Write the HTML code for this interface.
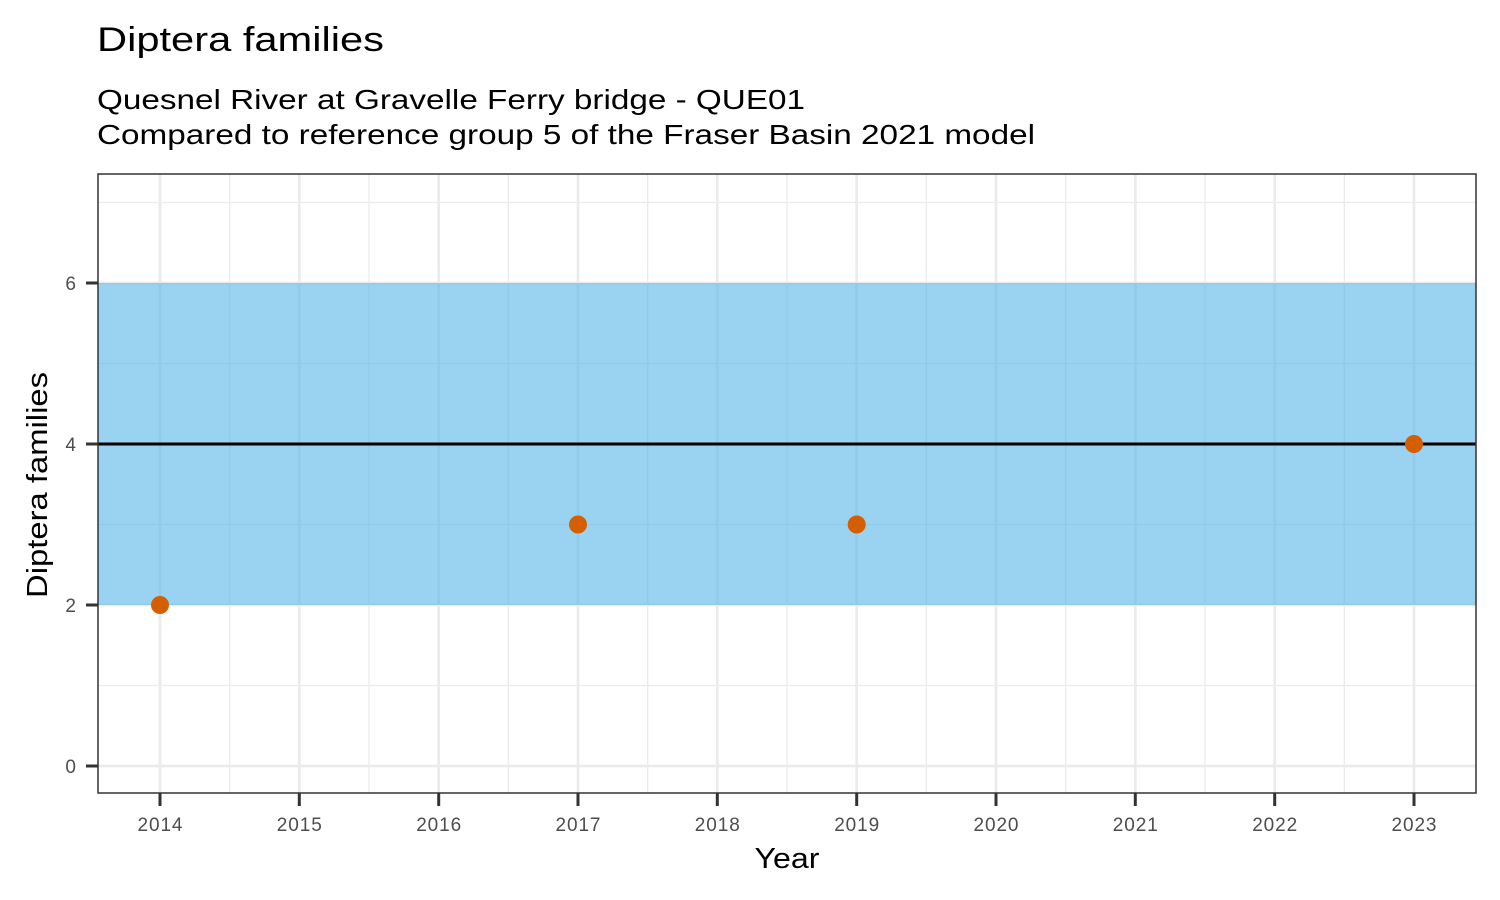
<!DOCTYPE html>
<html><head><style>body{margin:0;background:#fff}svg{display:block}text{font-family:"Liberation Sans",Arial,sans-serif}</style></head>
<body>
<svg width="1500" height="900" viewBox="0 0 1500 900" xmlns="http://www.w3.org/2000/svg">
<rect width="1500" height="900" fill="#fff"/>
<text x="97" y="51" font-size="34" textLength="287" lengthAdjust="spacingAndGlyphs">Diptera families</text>
<text x="97" y="109" font-size="28" textLength="708" lengthAdjust="spacingAndGlyphs">Quesnel River at Gravelle Ferry bridge - QUE01</text>
<text x="97" y="144" font-size="28" textLength="938" lengthAdjust="spacingAndGlyphs">Compared to reference group 5 of the Fraser Basin 2021 model</text>
<g stroke="#ebebeb" stroke-width="1.3">
<line x1="98" x2="1476" y1="685.5" y2="685.5"/><line x1="98" x2="1476" y1="524.5" y2="524.5"/><line x1="98" x2="1476" y1="363.5" y2="363.5"/><line x1="98" x2="1476" y1="202.5" y2="202.5"/>
<line x1="229.7" x2="229.7" y1="174" y2="793"/><line x1="369" x2="369" y1="174" y2="793"/><line x1="508.3" x2="508.3" y1="174" y2="793"/><line x1="647.7" x2="647.7" y1="174" y2="793"/><line x1="787" x2="787" y1="174" y2="793"/><line x1="926.3" x2="926.3" y1="174" y2="793"/><line x1="1065.7" x2="1065.7" y1="174" y2="793"/><line x1="1205" x2="1205" y1="174" y2="793"/><line x1="1344.3" x2="1344.3" y1="174" y2="793"/>
</g>
<g stroke="#ebebeb" stroke-width="2.7">
<line x1="98" x2="1476" y1="766" y2="766"/><line x1="98" x2="1476" y1="605" y2="605"/><line x1="98" x2="1476" y1="444" y2="444"/><line x1="98" x2="1476" y1="283" y2="283"/>
<line x1="160" x2="160" y1="174" y2="793"/><line x1="299.3" x2="299.3" y1="174" y2="793"/><line x1="438.7" x2="438.7" y1="174" y2="793"/><line x1="578" x2="578" y1="174" y2="793"/><line x1="717.3" x2="717.3" y1="174" y2="793"/><line x1="856.7" x2="856.7" y1="174" y2="793"/><line x1="996" x2="996" y1="174" y2="793"/><line x1="1135.3" x2="1135.3" y1="174" y2="793"/><line x1="1274.7" x2="1274.7" y1="174" y2="793"/><line x1="1414" x2="1414" y1="174" y2="793"/>
</g>
<rect x="98" y="283" width="1378" height="322" fill="#56B4E9" fill-opacity="0.6"/>
<line x1="98" x2="1476" y1="444" y2="444" stroke="#000" stroke-width="3"/>
<g fill="#D55E00"><circle cx="160" cy="605" r="9"/><circle cx="578" cy="524.5" r="9"/><circle cx="856.7" cy="524.5" r="9"/><circle cx="1414" cy="444" r="9"/></g>
<rect x="98" y="174" width="1378" height="619" fill="none" stroke="#333" stroke-width="1.5"/>
<g stroke="#333" stroke-width="3">
<line x1="86" x2="98" y1="766" y2="766"/><line x1="86" x2="98" y1="605" y2="605"/><line x1="86" x2="98" y1="444" y2="444"/><line x1="86" x2="98" y1="283" y2="283"/>
<line x1="160" x2="160" y1="793" y2="806"/><line x1="299.3" x2="299.3" y1="793" y2="806"/><line x1="438.7" x2="438.7" y1="793" y2="806"/><line x1="578" x2="578" y1="793" y2="806"/><line x1="717.3" x2="717.3" y1="793" y2="806"/><line x1="856.7" x2="856.7" y1="793" y2="806"/><line x1="996" x2="996" y1="793" y2="806"/><line x1="1135.3" x2="1135.3" y1="793" y2="806"/><line x1="1274.7" x2="1274.7" y1="793" y2="806"/><line x1="1414" x2="1414" y1="793" y2="806"/>
</g>
<g font-size="19" fill="#4d4d4d" text-anchor="end"><text x="76" y="773">0</text><text x="76" y="612">2</text><text x="76" y="451">4</text><text x="76" y="290">6</text></g>
<g font-size="19" fill="#4d4d4d" text-anchor="middle"><text x="160" y="831" textLength="45">2014</text><text x="299.3" y="831" textLength="45">2015</text><text x="438.7" y="831" textLength="45">2016</text><text x="578" y="831" textLength="45">2017</text><text x="717.3" y="831" textLength="45">2018</text><text x="856.7" y="831" textLength="45">2019</text><text x="996" y="831" textLength="45">2020</text><text x="1135.3" y="831" textLength="45">2021</text><text x="1274.7" y="831" textLength="45">2022</text><text x="1414" y="831" textLength="45">2023</text></g>
<text x="787" y="868" font-size="29" text-anchor="middle" textLength="65" lengthAdjust="spacingAndGlyphs">Year</text>
<text transform="translate(47,485) rotate(-90)" font-size="29" text-anchor="middle" textLength="226" lengthAdjust="spacingAndGlyphs">Diptera families</text>
</svg>
</body></html>
